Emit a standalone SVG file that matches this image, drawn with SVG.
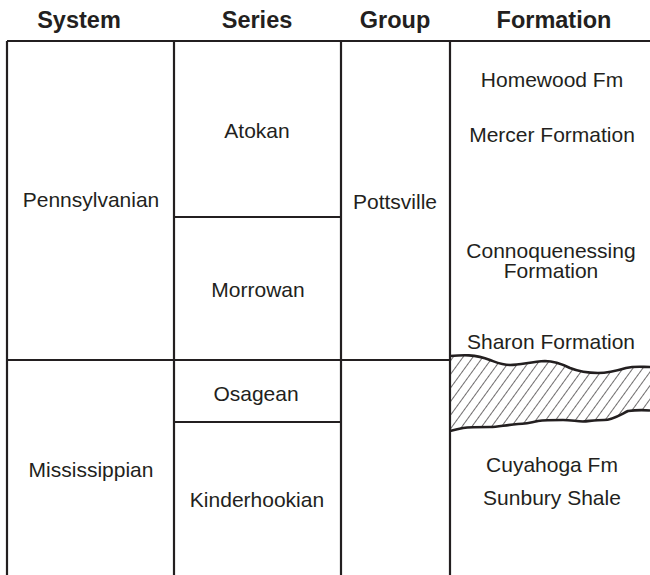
<svg xmlns="http://www.w3.org/2000/svg" width="650" height="575" viewBox="0 0 650 575">
  <style>
    .hdr { font-family: "Liberation Sans", Arial, sans-serif; font-weight: bold; font-size: 23.5px; fill: #231f20; text-anchor: middle; }
    .lbl { font-family: "Liberation Sans", Arial, sans-serif; font-size: 21px; fill: #231f20; text-anchor: middle; }
    .grid line { stroke: #231f20; stroke-width: 2.2; fill: none; }
    .edge { stroke: #231f20; stroke-width: 2.6; fill: none; stroke-linejoin: round; }
  </style>
  <defs>
    <pattern id="hatch" patternUnits="userSpaceOnUse" width="8" height="8" patternTransform="rotate(36)">
      <line x1="0" y1="0" x2="0" y2="8" stroke="#231f20" stroke-width="1.3"/>
    </pattern>
  </defs>
  <rect width="650" height="575" fill="#ffffff"/>

  <g id="headers">
    <text class="hdr" x="79" y="28">System</text>
    <text class="hdr" x="257" y="28">Series</text>
    <text class="hdr" x="395" y="28">Group</text>
    <text class="hdr" x="554" y="28">Formation</text>
  </g>

  <g id="unconformity">
    <path d="M450,356 C462,355 475,354 490,360 C498,363 502,365 510,365 C520,365 530,362 545,361 C555,361 562,364 570,368 C580,372 588,373 598,373 C608,373 616,371 626,368 C635,366 642,367 650,367 L650,410.5 C644,410 636,410 628,411 C618,416 612,420 604,420 C596,420 590,421 583,421.5 C575,421 570,420 563,420 C552,420 545,420 538,421 C530,423 525,424 518,424 C505,425 498,427 490,427 C480,427 470,427 463,428 C458,429 454,430 450,431 Z" fill="url(#hatch)"/>
    <path class="edge" d="M450,356 C462,355 475,354 490,360 C498,363 502,365 510,365 C520,365 530,362 545,361 C555,361 562,364 570,368 C580,372 588,373 598,373 C608,373 616,371 626,368 C635,366 642,367 650,367"/>
    <path class="edge" d="M650,410.5 C644,410 636,410 628,411 C618,416 612,420 604,420 C596,420 590,421 583,421.5 C575,421 570,420 563,420 C552,420 545,420 538,421 C530,423 525,424 518,424 C505,425 498,427 490,427 C480,427 470,427 463,428 C458,429 454,430 450,431"/>
  </g>

  <g id="connectors" class="grid">
    <line x1="7" y1="41" x2="650" y2="41"/>
    <line x1="7" y1="41" x2="7" y2="575"/>
    <line x1="174" y1="41" x2="174" y2="575"/>
    <line x1="341" y1="41" x2="341" y2="575"/>
    <line x1="450" y1="41" x2="450" y2="575"/>
    <line x1="174" y1="217" x2="341" y2="217"/>
    <line x1="7" y1="360" x2="450" y2="360"/>
    <line x1="174" y1="422" x2="341" y2="422"/>
  </g>

  <g id="pennsylvanian"><text class="lbl" x="91" y="207">Pennsylvanian</text></g>
  <g id="mississippian"><text class="lbl" x="91" y="477">Mississippian</text></g>
  <g id="atokan"><text class="lbl" x="257" y="138">Atokan</text></g>
  <g id="morrowan"><text class="lbl" x="258" y="297">Morrowan</text></g>
  <g id="osagean"><text class="lbl" x="256" y="401">Osagean</text></g>
  <g id="kinderhookian"><text class="lbl" x="257" y="507">Kinderhookian</text></g>
  <g id="pottsville"><text class="lbl" x="395" y="209">Pottsville</text></g>
  <g id="homewood"><text class="lbl" x="552" y="87">Homewood Fm</text></g>
  <g id="mercer"><text class="lbl" x="552" y="142">Mercer Formation</text></g>
  <g id="connoquenessing">
    <text class="lbl" x="551" y="258">Connoquenessing</text>
    <text class="lbl" x="551" y="278">Formation</text>
  </g>
  <g id="sharon"><text class="lbl" x="551" y="349">Sharon Formation</text></g>
  <g id="cuyahoga"><text class="lbl" x="552" y="472">Cuyahoga Fm</text></g>
  <g id="sunbury"><text class="lbl" x="552" y="505">Sunbury Shale</text></g>
</svg>
